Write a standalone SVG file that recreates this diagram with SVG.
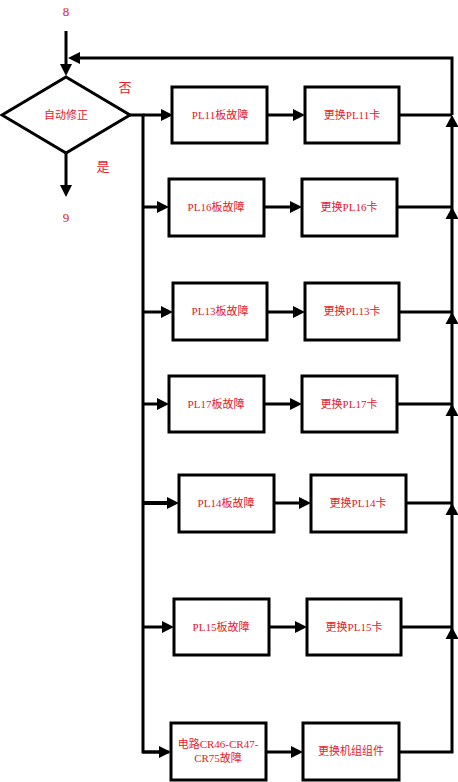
<svg xmlns="http://www.w3.org/2000/svg" width="458" height="782" viewBox="0 0 458 782">
<style>
.box{fill:#fff;stroke:#000;stroke-width:3}
.ln{fill:none;stroke:#000;stroke-width:3}
.ar{fill:none;stroke:#000;stroke-width:3;marker-end:url(#ah)}
.hd{fill:#000}
.t{font-family:"Liberation Serif","Noto Sans CJK SC",serif;font-size:11px;fill:#e8202a;text-anchor:middle;dominant-baseline:central}
.lb{font-family:"Liberation Serif","Noto Sans CJK SC",serif;font-size:13px;fill:#e8202a;text-anchor:middle;dominant-baseline:central}
</style>
<defs>
<marker id="ah" viewBox="0 0 12 12" refX="8" refY="6" markerWidth="12" markerHeight="12" orient="auto" markerUnits="userSpaceOnUse">
<path d="M0,0 L12,6 L0,12 z" fill="#000"/>
</marker>
<path id="up" d="M0,0 L6.5,12 L-6.5,12 z"/>
</defs>
<g id="connectors">
<line class="ar" x1="66" y1="31" x2="66" y2="72"/>
<polyline class="ln" points="452,115 452,58 76,58"/>
<path class="hd" d="M80,52 L68,58 L80,64 z"/>
<line class="ar" x1="66" y1="153" x2="66" y2="193"/>
<polyline class="ln" points="129,115 143,115 143,752 169,752"/>
<line class="ar" x1="143" y1="115" x2="169" y2="115"/>
<line class="ar" x1="143" y1="207" x2="165" y2="207"/>
<line class="ar" x1="143" y1="312" x2="169" y2="312"/>
<line class="ar" x1="143" y1="404" x2="165" y2="404"/>
<line class="ar" x1="143" y1="503" x2="175" y2="503" style="stroke-width:4"/>
<line class="ar" x1="143" y1="627" x2="170" y2="627"/>
<line class="ar" x1="143" y1="752" x2="167" y2="752"/>
<line class="ar" x1="267" y1="115" x2="301" y2="115"/>
<line class="ar" x1="264" y1="207" x2="298" y2="207"/>
<line class="ar" x1="267" y1="312" x2="301" y2="312"/>
<line class="ar" x1="264" y1="404" x2="298" y2="404"/>
<line class="ar" x1="274" y1="503" x2="307" y2="503"/>
<line class="ar" x1="269" y1="627" x2="303" y2="627"/>
<line class="ar" x1="266" y1="752" x2="299" y2="752"/>
<line class="ln" x1="399" y1="115" x2="452" y2="115"/>
<line class="ln" x1="397" y1="207" x2="452" y2="207"/>
<line class="ln" x1="399" y1="312" x2="452" y2="312"/>
<line class="ln" x1="397" y1="404" x2="452" y2="404"/>
<line class="ln" x1="406" y1="503" x2="452" y2="503"/>
<line class="ln" x1="401" y1="627" x2="452" y2="627"/>
<polyline class="ln" points="399,752 452,752 452,120"/>
<use href="#up" class="hd" x="452" y="115"/>
<use href="#up" class="hd" x="452" y="207"/>
<use href="#up" class="hd" x="452" y="312"/>
<use href="#up" class="hd" x="452" y="404"/>
<use href="#up" class="hd" x="452" y="503"/>
<use href="#up" class="hd" x="452" y="627"/>
</g>
<g id="start"><text class="lb" x="66" y="11">8</text></g>
<g id="end"><text class="lb" x="66" y="217">9</text></g>
<g id="decision">
<polygon class="box" points="66,77 130,115 66,153 2,115"/>
<text class="t" x="66" y="115">自动修正</text>
</g>
<g id="label-no"><text class="lb" x="125" y="87">否</text></g>
<g id="label-yes"><text class="lb" x="103" y="166">是</text></g>
<g id="n1a"><rect class="box" x="172" y="87" width="95" height="56"/><text class="t" x="220" y="115">PL11板故障</text></g>
<g id="n1b"><rect class="box" x="305" y="87" width="94" height="56"/><text class="t" x="352" y="115">更换PL11卡</text></g>
<g id="n2a"><rect class="box" x="169" y="179" width="95" height="57"/><text class="t" x="216" y="207">PL16板故障</text></g>
<g id="n2b"><rect class="box" x="302" y="179" width="95" height="57"/><text class="t" x="349" y="207">更换PL16卡</text></g>
<g id="n3a"><rect class="box" x="173" y="283" width="94" height="57"/><text class="t" x="220" y="311">PL13板故障</text></g>
<g id="n3b"><rect class="box" x="305" y="283" width="94" height="57"/><text class="t" x="352" y="311">更换PL13卡</text></g>
<g id="n4a"><rect class="box" x="169" y="376" width="95" height="56"/><text class="t" x="216" y="404">PL17板故障</text></g>
<g id="n4b"><rect class="box" x="302" y="376" width="95" height="56"/><text class="t" x="349" y="404">更换PL17卡</text></g>
<g id="n5a"><rect class="box" x="179" y="475" width="95" height="57"/><text class="t" x="226" y="503">PL14板故障</text></g>
<g id="n5b"><rect class="box" x="311" y="475" width="95" height="57"/><text class="t" x="358" y="503">更换PL14卡</text></g>
<g id="n6a"><rect class="box" x="174" y="599" width="95" height="56"/><text class="t" x="221" y="627">PL15板故障</text></g>
<g id="n6b"><rect class="box" x="307" y="599" width="94" height="56"/><text class="t" x="354" y="627">更换PL15卡</text></g>
<g id="n7a"><rect class="box" x="171" y="723" width="95" height="57"/><text class="t" x="218" y="744">电路CR46-CR47-</text><text class="t" x="218" y="758">CR75故障</text></g>
<g id="n7b"><rect class="box" x="303" y="723" width="96" height="57"/><text class="t" x="351" y="751">更换机组组件</text></g>
</svg>
